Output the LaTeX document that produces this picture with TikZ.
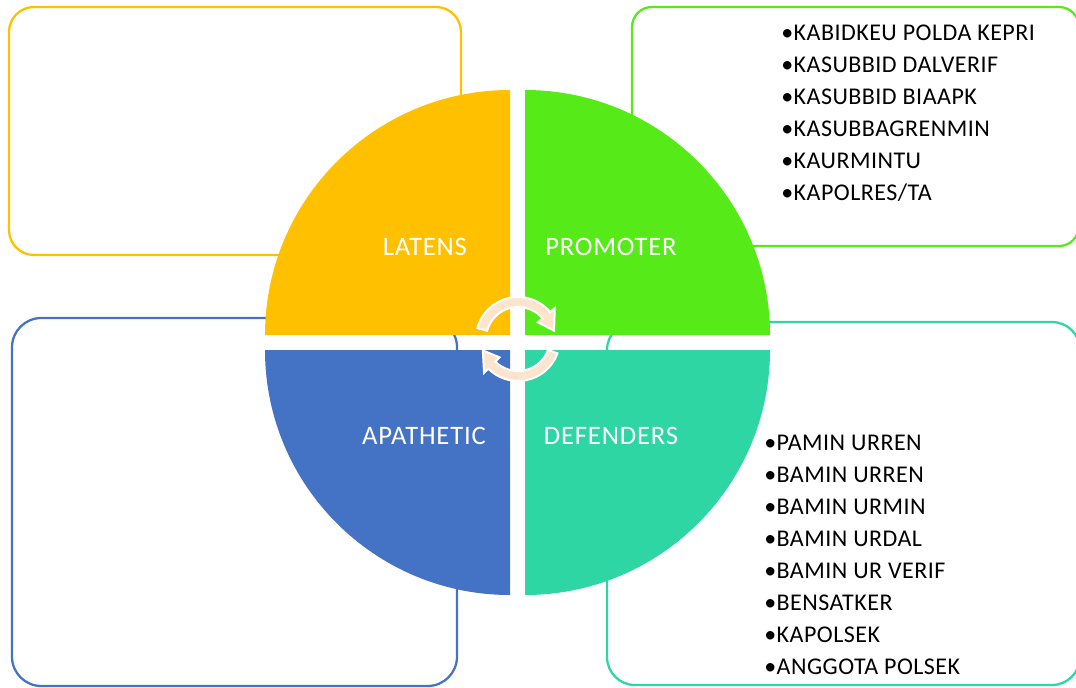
\documentclass[tikz,border=0pt]{standalone}
\usepackage{fontspec}
\setmainfont{Carlito}
\newfontfamily\labelfont[LetterSpace=3]{Carlito}
\newfontfamily\listfont[LetterSpace=2]{Carlito}
\definecolor{latensc}{RGB}{255,192,0}
\definecolor{promoterc}{RGB}{86,235,24}
\definecolor{apatheticc}{RGB}{68,114,196}
\definecolor{defendersc}{RGB}{46,214,163}
\definecolor{arrowc}{RGB}{253,229,205}
\tikzset{
  boxline/.style={line width=1.7pt, rounded corners=#1},
  quarter/.style={fill=#1, draw=none},
  label/.style={text=white, font=\labelfont\fontsize{20}{24}\selectfont, inner sep=0.75pt},
  listtext/.style={anchor=north west, align=left, inner sep=0pt, font=\listfont\fontsize{18}{24}\selectfont},
  cyclearrow/.style={fill=arrowc, draw=white, line width=1.5pt, line join=miter}
}
\begin{document}
\begin{tikzpicture}[x=0.75pt,y=0.75pt,yscale=-1,xscale=1]
\useasboundingbox (0,0) rectangle (1076,687);
\clip (0,0) rectangle (1076,687);

%Shape: Rounded Rect [id:latensbox]
\draw [boxline=18.75pt, draw=latensc] (9,7) rectangle (461,255) ;
%Shape: Rounded Rect [id:promoterbox]
\draw [boxline=15pt, draw=promoterc] (632,7) rectangle (1079,246) ;
%Shape: Rounded Rect [id:apatheticbox]
\draw [boxline=22pt, draw=apatheticc] (12,318) rectangle (457,686) ;
%Shape: Rounded Rect [id:defendersbox]
\draw [boxline=21pt, draw=defendersc] (607,322) rectangle (1080,685) ;

%Shape: Quarter Circle [id:latensq]
\fill [quarter=latensc] (510,335) -- ++(180:245) arc [start angle=180, end angle=270, radius=245] -- cycle ;
%Shape: Quarter Circle [id:promoterq]
\fill [quarter=promoterc] (525,335) -- ++(270:245) arc [start angle=270, end angle=360, radius=245] -- cycle ;
%Shape: Quarter Circle [id:defendersq]
\fill [quarter=defendersc] (525,350) -- ++(0:245) arc [start angle=0, end angle=90, radius=245] -- cycle ;
%Shape: Quarter Circle [id:apatheticq]
\fill [quarter=apatheticc] (510,350) -- ++(90:245) arc [start angle=90, end angle=180, radius=245] -- cycle ;

%Shape: Circular Arrow [id:toparrow]
\draw [cyclearrow, shift={(518,339)}] (195:42) arc [start angle=195, end angle=320, radius=42] -- (320:48) -- (347:37) -- (320:26) -- (320:32) arc [start angle=320, end angle=195, radius=32] -- cycle ;
%Shape: Circular Arrow [id:bottomarrow]
\draw [cyclearrow, shift={(518,339)}] (20:42) arc [start angle=20, end angle=135, radius=42] -- (135:48) -- (162:37) -- (135:26) -- (135:32) arc [start angle=135, end angle=20, radius=32] -- cycle ;

% Text Node
\node (latens) at (425,247) [label] {LATENS};
% Text Node
\node (promoter) at (611,247) [label] {PROMOTER};
% Text Node
\node (apathetic) at (424,436) [label] {APATHETIC};
% Text Node
\node (defenders) at (611,436) [label] {DEFENDERS};

% Text Node
\node (promoterlist) at (781,25) [listtext] {•KABIDKEU POLDA KEPRI\\•KASUBBID DALVERIF\\•KASUBBID BIAAPK\\•KASUBBAGRENMIN\\•KAURMINTU\\•KAPOLRES/TA};
% Text Node
\node (defenderslist) at (764,435) [listtext] {•PAMIN URREN\\•BAMIN URREN\\•BAMIN URMIN\\•BAMIN URDAL\\•BAMIN UR VERIF\\•BENSATKER\\•KAPOLSEK\\•ANGGOTA POLSEK};

\end{tikzpicture}
\end{document}
